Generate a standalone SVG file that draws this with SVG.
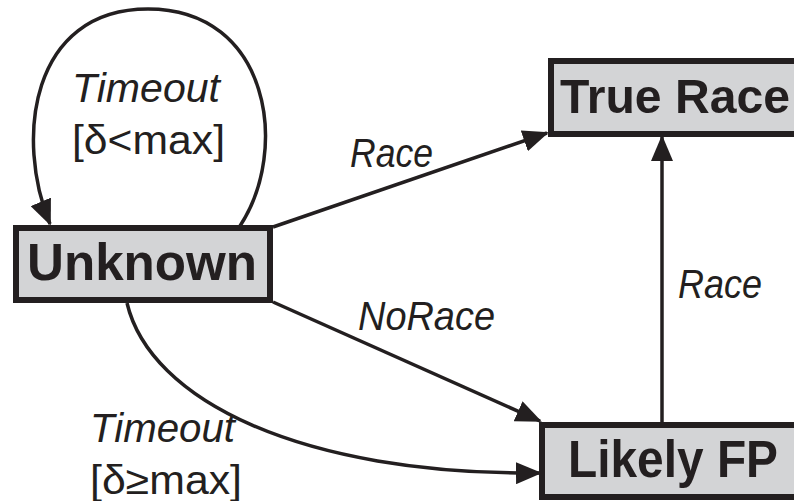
<svg xmlns="http://www.w3.org/2000/svg" width="794" height="501" viewBox="0 0 794 501">
<defs>
<style>
.box{fill:#d3d4d6;stroke:#231f20;stroke-width:6}
.nl{font-family:"Liberation Sans",Arial,sans-serif;font-weight:bold;fill:#231f20}
.el{font-family:"Liberation Sans",Arial,sans-serif;fill:#231f20;font-size:40px}
.it{font-style:italic}
.edge{fill:none;stroke:#231f20;stroke-width:3.5}
</style>
<marker id="ah" markerUnits="userSpaceOnUse" markerWidth="26" markerHeight="22" refX="24" refY="11" orient="auto">
<path d="M0,0 L26,11 L0,22 Z" fill="#231f20"/>
</marker>
</defs>
<rect width="794" height="501" fill="#fff"/>
<g id="connectors">
<path class="edge" d="M240,226 C290,150 270,9 148,9 C30,9 15,140 50,224" marker-end="url(#ah)"/>
<path class="edge" d="M273,227 L547,133" marker-end="url(#ah)"/>
<path class="edge" d="M273,302 L540,421" marker-end="url(#ah)"/>
<path class="edge" d="M127,303 C150,400 300,475 540,473" marker-end="url(#ah)"/>
<path class="edge" d="M662,422 L662,137" marker-end="url(#ah)"/>
<text class="el it" x="72" y="102" textLength="148" lengthAdjust="spacingAndGlyphs">Timeout</text>
<text class="el" x="72" y="154" textLength="153" lengthAdjust="spacingAndGlyphs">[δ&lt;max]</text>
<text class="el it" x="350" y="167" textLength="83" lengthAdjust="spacingAndGlyphs">Race</text>
<text class="el it" x="358" y="330" textLength="137" lengthAdjust="spacingAndGlyphs">NoRace</text>
<text class="el it" x="678" y="298" textLength="84" lengthAdjust="spacingAndGlyphs">Race</text>
<text class="el it" x="90" y="442" textLength="145" lengthAdjust="spacingAndGlyphs">Timeout</text>
<text class="el" x="90" y="494" textLength="152" lengthAdjust="spacingAndGlyphs">[δ≥max]</text>
</g>
<g id="unknown">
<rect class="box" x="16" y="228" width="254" height="72"/>
<text class="nl" x="27" y="280" font-size="52" textLength="230" lengthAdjust="spacingAndGlyphs">Unknown</text>
</g>
<g id="true-race">
<rect class="box" x="551" y="61" width="270" height="73"/>
<text class="nl" x="560" y="113" font-size="48" textLength="230" lengthAdjust="spacingAndGlyphs">True Race</text>
</g>
<g id="likely-fp">
<rect class="box" x="542" y="425" width="270" height="72"/>
<text class="nl" x="568" y="477" font-size="51" textLength="210" lengthAdjust="spacingAndGlyphs">Likely FP</text>
</g>
</svg>
